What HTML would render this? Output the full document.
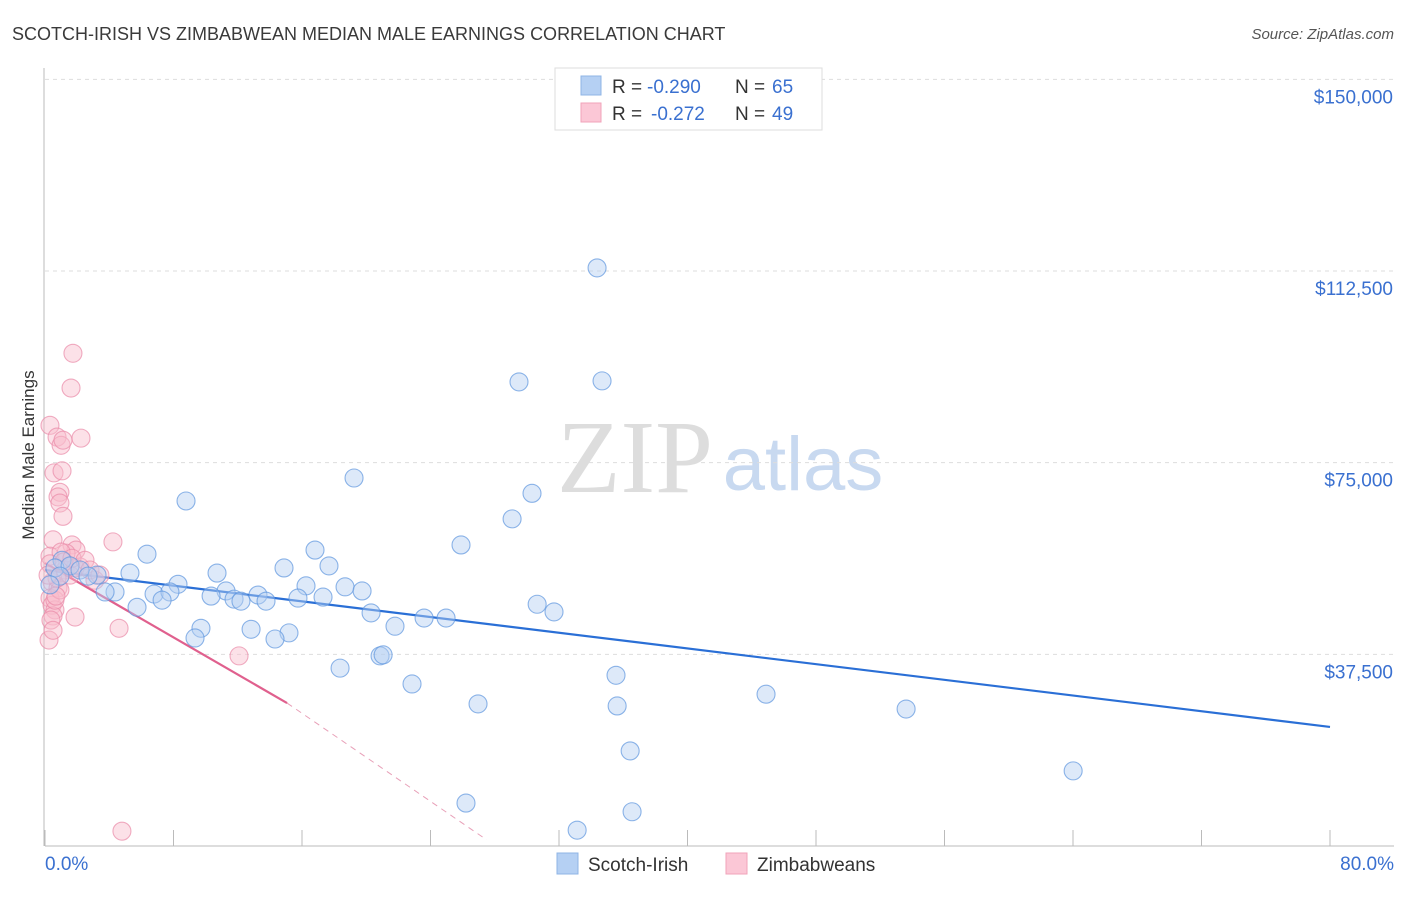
<!DOCTYPE html>
<html><head><meta charset="utf-8"><style>
body{margin:0;background:#fff;font-family:"Liberation Sans",sans-serif}
svg text{font-family:"Liberation Sans",sans-serif}
</style></head><body>
<svg id="c" width="1406" height="892">
<text x="12" y="40" font-size="18" fill="#3a3a3a">SCOTCH-IRISH VS ZIMBABWEAN MEDIAN MALE EARNINGS CORRELATION CHART</text>
<text x="1394" y="39" font-size="15" fill="#555" text-anchor="end" font-style="italic">Source: ZipAtlas.com</text>
<g>
<text x="635" y="492" font-size="104" fill="#ddd" text-anchor="middle" style="font-family:'Liberation Serif',serif">ZIP</text>
<text x="803" y="490" font-size="76" fill="#c8d9f0" text-anchor="middle">atlas</text>
</g>
<g id="grid"></g><g id="axes"></g><g id="trend"></g><g id="pts"></g>
<text transform="translate(34,455) rotate(-90)" font-size="17" fill="#333" text-anchor="middle">Median Male Earnings</text>
<g>
<rect x="555" y="68" width="267" height="62" fill="#fff" stroke="#ddd"/>
<rect x="581" y="76" width="20" height="19" fill="#b5d0f3" stroke="#8fb4e6"/>
<rect x="581" y="103" width="20" height="19" fill="#fbc7d6" stroke="#f0a3ba"/>
<text x="612" y="93" font-size="19" fill="#333">R =</text><text x="647" y="93" font-size="19" fill="#3a70d0">-0.290</text>
<text x="735" y="93" font-size="19" fill="#333">N =</text><text x="772" y="93" font-size="19" fill="#3a70d0">65</text>
<text x="612" y="120" font-size="19" fill="#333">R =</text><text x="651" y="120" font-size="19" fill="#3a70d0">-0.272</text>
<text x="735" y="120" font-size="19" fill="#333">N =</text><text x="772" y="120" font-size="19" fill="#3a70d0">49</text>
</g>
<g>
<rect x="557" y="853" width="21" height="21" fill="#b5d0f3" stroke="#8fb4e6"/>
<text x="588" y="871" font-size="19" fill="#333">Scotch-Irish</text>
<rect x="726" y="853" width="21" height="21" fill="#fbc7d6" stroke="#f0a3ba"/>
<text x="757" y="871" font-size="19" fill="#333">Zimbabweans</text>
</g>
</svg>
<script>
const yTicks=[37500,75000,112500,150000];
const yTickLabels=["$37,500","$75,000","$112,500","$150,000"];
const xTickValues=[0,8,16,24,32,40,48,56,64,72,80];
const xEndLabels=["0.0%","80.0%"];
const blueX=[34.37,29.51,34.68,19.24,8.78,30.32,29.08,25.90,6.35,16.81,14.88,17.68,10.71,5.29,3.24,8.28,16.25,18.68,19.74,6.79,7.78,11.27,13.26,10.34,15.75,17.31,11.77,12.20,13.76,7.29,4.36,3.74,30.64,31.69,5.73,20.30,23.60,24.97,21.79,9.71,12.83,15.19,9.34,14.32,18.37,20.86,21.05,22.85,35.55,26.96,35.62,44.89,53.61,36.43,64.01,26.21,36.55,33.13,1.06,0.62,1.56,2.18,0.93,2.68,0.31];
const blueY=[113100,90800,91000,72000,67500,69000,64000,58900,57100,57900,54400,54800,53400,53400,53000,51200,50900,50700,49900,49300,49700,49900,49100,48900,48500,48700,48300,47900,47900,48100,49700,49700,47300,45800,46700,45600,44600,44600,43000,42600,42400,41700,40700,40500,34800,37200,37400,31700,33400,27800,27400,29700,26800,18600,14700,8400,6700,3100,55900,54400,54800,54000,52800,52800,51100];
const pinkX=[1.74,1.62,2.24,0.31,0.75,1.00,1.12,0.56,1.06,0.93,0.81,0.93,1.12,4.23,0.50,0.31,1.68,1.93,1.31,2.18,1.00,0.31,1.25,1.56,1.87,3.11,0.44,0.81,0.31,0.44,0.62,0.50,0.37,0.25,1.87,4.61,12.08,4.79,0.62,0.93,0.75,0.19,1.18,1.68,2.49,2.80,3.42,0.50,0.68];
const pinkY=[96400,89600,79800,82300,80000,78400,79400,73000,73400,69200,68300,67100,64500,59500,59900,56700,58900,57900,57300,54600,57500,55200,54000,53000,54400,52000,51600,50500,48500,47100,46200,45000,44200,40300,44800,42600,37200,2900,48100,50100,52400,53000,55600,56300,55900,54000,53000,42200,48900];
const blueTrendX=[0,80], blueTrendY=[54000,23300];
const pinkTrendX=[0,15.07], pinkTrendY=[55350,27970];
const pinkDashX=[15.07,27.5], pinkDashY=[27970,1200];
const NS="http://www.w3.org/2000/svg";
const xs=v=>45+v*(1285/80), ys=v=>846-v*(191.67/37500);
function mk(p,t,a){const e=document.createElementNS(NS,t);for(const k in a)e.setAttribute(k,a[k]);document.getElementById(p).appendChild(e);return e;}
yTicks.forEach((t,i)=>{
 let l=mk('grid','line',{x1:45,x2:1394,y1:ys(t),y2:ys(t),stroke:'#ddd','stroke-dasharray':'4,4'});
 
 
 let tx=mk('axes','text',{x:1393,y:ys(t)+24,'font-size':19,fill:'#3a70d0','text-anchor':'end'});
 tx.textContent=yTickLabels[i];
 
 
});
let ax=mk('axes','line',{x1:45,x2:1394,y1:846,y2:846,stroke:'#bbb'});


let ay=mk('axes','line',{x1:44,x2:44,y1:68,y2:846,stroke:'#bbb'});


xTickValues.forEach(v=>{let t=mk('axes','line',{x1:xs(v),x2:xs(v),y1:830,y2:846,stroke:'#bbb'});
 
 });
[[0,'start',45],[80,'end',1394]].forEach((d,i)=>{let t=mk('axes','text',{x:d[2],y:870,'font-size':19,fill:'#3a70d0','text-anchor':d[1]});t.textContent=xEndLabels[i];
 
 });
function pts(X,Y,f,s,n){X.forEach((x,i)=>{let c=mk('pts','circle',{cx:xs(x),cy:ys(Y[i]),r:9,fill:f,'fill-opacity':0.45,stroke:s,'stroke-opacity':0.7,'stroke-width':1.1});
 
 });}
pts(pinkX,pinkY,'#f9bccd','#ea8aa8','zimbabwean-point');
pts(blueX,blueY,'#b3cff2','#5e95de','scotch-irish-point');
let b=mk('trend','line',{x1:xs(blueTrendX[0]),y1:ys(blueTrendY[0]),x2:xs(blueTrendX[1]),y2:ys(blueTrendY[1]),stroke:'#2a6fd6','stroke-width':2.2});


let p=mk('trend','line',{x1:xs(pinkTrendX[0]),y1:ys(pinkTrendY[0]),x2:xs(pinkTrendX[1]),y2:ys(pinkTrendY[1]),stroke:'#e0608e','stroke-width':2.2});


let pd=mk('trend','line',{x1:xs(pinkDashX[0]),y1:ys(pinkDashY[0]),x2:xs(pinkDashX[1]),y2:ys(pinkDashY[1]),stroke:'#e8a0b8','stroke-width':1,'stroke-dasharray':'6,5'});


</script>
</body></html>
